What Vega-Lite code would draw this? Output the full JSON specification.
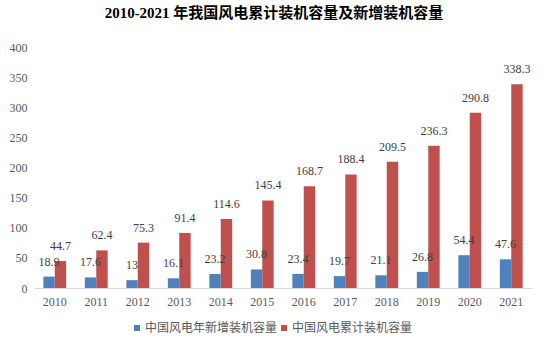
{
  "$schema": "https://vega.github.io/schema/vega-lite/v6.json",
  "width": 498,
  "height": 241,
  "autosize": {"type": "none"},
  "padding": {"left": 34, "top": 47, "right": 14, "bottom": 63},
  "background": "white",
  "title": {
    "text": "2010-2021 年我国风电累计装机容量及新增装机容量",
    "font": "Liberation Serif, Noto Sans CJK SC",
    "fontSize": 15,
    "fontWeight": "bold",
    "color": "#000000",
    "anchor": "middle",
    "dx": -9,
    "offset": 20
  },
  "config": {
    "view": {"stroke": null},
    "axis": {"grid": false, "ticks": false, "labelFont": "Liberation Serif", "labelFontSize": 12, "labelColor": "#595959", "title": null}
  },
  "data": {
    "values": [
      {"year": "2010", "series": "中国风电年新增装机容量", "value": 18.9},
      {"year": "2011", "series": "中国风电年新增装机容量", "value": 17.6},
      {"year": "2012", "series": "中国风电年新增装机容量", "value": 13},
      {"year": "2013", "series": "中国风电年新增装机容量", "value": 16.1},
      {"year": "2014", "series": "中国风电年新增装机容量", "value": 23.2},
      {"year": "2015", "series": "中国风电年新增装机容量", "value": 30.8},
      {"year": "2016", "series": "中国风电年新增装机容量", "value": 23.4},
      {"year": "2017", "series": "中国风电年新增装机容量", "value": 19.7},
      {"year": "2018", "series": "中国风电年新增装机容量", "value": 21.1},
      {"year": "2019", "series": "中国风电年新增装机容量", "value": 26.8},
      {"year": "2020", "series": "中国风电年新增装机容量", "value": 54.4},
      {"year": "2021", "series": "中国风电年新增装机容量", "value": 47.6},
      {"year": "2010", "series": "中国风电累计装机容量", "value": 44.7},
      {"year": "2011", "series": "中国风电累计装机容量", "value": 62.4},
      {"year": "2012", "series": "中国风电累计装机容量", "value": 75.3},
      {"year": "2013", "series": "中国风电累计装机容量", "value": 91.4},
      {"year": "2014", "series": "中国风电累计装机容量", "value": 114.6},
      {"year": "2015", "series": "中国风电累计装机容量", "value": 145.4},
      {"year": "2016", "series": "中国风电累计装机容量", "value": 168.7},
      {"year": "2017", "series": "中国风电累计装机容量", "value": 188.4},
      {"year": "2018", "series": "中国风电累计装机容量", "value": 209.5},
      {"year": "2019", "series": "中国风电累计装机容量", "value": 236.3},
      {"year": "2020", "series": "中国风电累计装机容量", "value": 290.8},
      {"year": "2021", "series": "中国风电累计装机容量", "value": 338.3}
    ]
  },
  "encoding": {
    "x": {
      "field": "year",
      "type": "nominal",
      "scale": {"paddingInner": 0.45, "paddingOuter": 0.225},
      "axis": {"labelAngle": 0, "domainColor": "#D9D9D9", "labelPadding": 8}
    },
    "xOffset": {
      "field": "series",
      "type": "nominal",
      "scale": {"domain": ["中国风电年新增装机容量", "中国风电累计装机容量"], "paddingInner": 0, "paddingOuter": 0}
    },
    "y": {
      "field": "value",
      "type": "quantitative",
      "scale": {"domain": [0, 400], "nice": false},
      "axis": {"values": [0, 50, 100, 150, 200, 250, 300, 350, 400], "domain": false, "labelPadding": 7}
    }
  },
  "layer": [
    {
      "mark": {"type": "bar"},
      "encoding": {
        "color": {
          "field": "series",
          "type": "nominal",
          "scale": {"domain": ["中国风电年新增装机容量", "中国风电累计装机容量"], "range": ["#4F81BD", "#C0504D"]},
          "legend": {
            "orient": "none",
            "legendX": 97,
            "legendY": 275,
            "direction": "horizontal",
            "title": null,
            "symbolType": "square",
            "symbolSize": 36,
            "symbolStrokeWidth": 0,
            "labelFont": "Noto Sans CJK SC",
            "labelFontSize": 12,
            "labelColor": "#595959",
            "labelOffset": 2,
            "columnPadding": -3
          }
        }
      }
    },
    {
      "mark": {"type": "text", "baseline": "bottom", "dy": -8, "font": "Liberation Serif", "fontSize": 12, "color": "#404040"},
      "encoding": {"text": {"field": "value", "type": "quantitative"}}
    }
  ]
}
